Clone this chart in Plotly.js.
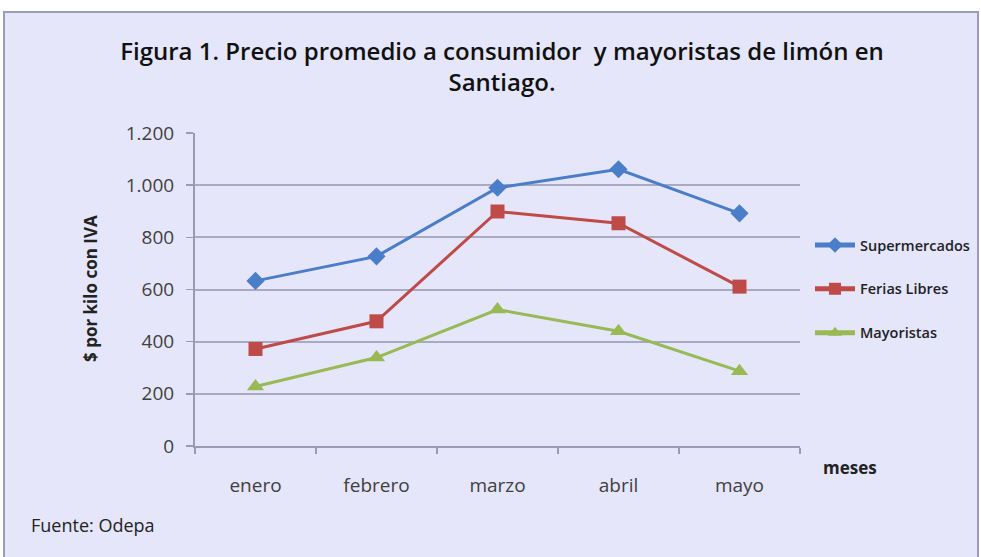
<!DOCTYPE html>
<html>
<head>
<meta charset="utf-8">
<script src="https://cdn.plot.ly/plotly-3.0.1.min.js"></script>
<style>html,body{margin:0;padding:0;background:#fff;}#chart{width:981px;height:557px;}</style>
</head>
<body>
<div id="chart"></div>
<script>
var months = ["enero", "febrero", "marzo", "abril", "mayo"];
var supermercados = [633, 727, 990, 1061, 892];
var feriasLibres = [372, 478, 899, 854, 611];
var mayoristas = [228, 339, 523, 440, 287];
var seriesNames = ["Supermercados", "Ferias Libres", "Mayoristas"];
var yTicks = [0, 200, 400, 600, 800, 1000, 1200];

var FONT = "'Open Sans', 'Noto Sans', sans-serif";
var W = 981, H = 557, L = 195, R = 800, T = 133, B = 446;
function px(x){ return (x - L) / (R - L); }
function py(y){ return (B - y) / (B - T); }

var traces = [
  {x: months, y: supermercados, name: seriesNames[0], legendgroup: "a", mode: "lines+markers",
   line: {color: "#4A7EC8", width: 3}, marker: {symbol: "diamond", size: 14, color: "#4A7EC8"}},
  {x: months, y: feriasLibres, name: seriesNames[1], legendgroup: "b", mode: "lines+markers",
   line: {color: "#BE4B48", width: 3}, marker: {symbol: "square", size: 14, color: "#BE4B48"}},
  {x: months, y: mayoristas, name: seriesNames[2], legendgroup: "c", mode: "lines+markers",
   line: {color: "#98B954", width: 3}, marker: {symbol: "triangle-up", size: 15, color: "#98B954"}}
];

var layout = {
  width: W, height: H,
  margin: {l: L, r: W - R, t: T, b: H - B, pad: 0, autoexpand: false},
  paper_bgcolor: "#ffffff",
  plot_bgcolor: "rgba(0,0,0,0)",
  separators: ",.",
  showlegend: true,
  title: {
    text: "Figura 1. Precio promedio a consumidor  y mayoristas de limón en<br>Santiago.",
    font: {family: FONT, size: 24, color: "#111111", weight: 600},
    x: px(502), xref: "paper", xanchor: "center",
    y: 1 - 60 / H, yref: "container", yanchor: "top"
  },
  xaxis: {
    type: "category",
    tickson: "boundaries",
    ticks: "outside", ticklen: 6, tickcolor: "#9A9AB4", tickwidth: 1.5,
    showline: true, linecolor: "#9A9AB4", linewidth: 2,
    showgrid: false, zeroline: false,
    tickfont: {family: FONT, size: 19, color: "#404040"},
    ticklabelstandoff: 21,
    range: [-0.5, 4.5], fixedrange: true
  },
  yaxis: {
    range: [0, 1200],
    tickvals: yTicks,
    tickformat: ",d",
    ticks: "outside", ticklen: 7, tickcolor: "#9A9AB4", tickwidth: 1.5,
    showline: true, linecolor: "#9A9AB4", linewidth: 2,
    showgrid: true, gridcolor: "#A9A9C2", gridwidth: 2,
    zeroline: false,
    tickfont: {family: FONT, size: 19, color: "#404040"},
    ticklabelstandoff: 8,
    fixedrange: true
  },
  legend: {
    x: px(810), y: py(229), xanchor: "left", yanchor: "top",
    bgcolor: "rgba(0,0,0,0)", borderwidth: 0,
    tracegroupgap: 22,
    itemsizing: "constant",
    font: {family: FONT, size: 14.5, color: "#222222", weight: 600},
    itemwidth: 40
  },
  shapes: [
    {type: "rect", layer: "below", xref: "paper", yref: "paper",
     x0: px(4), x1: px(978), y0: py(560), y1: py(12),
     fillcolor: "#E6E6FA", line: {color: "#9C9CB2", width: 2}}
  ],
  annotations: [
    {text: "$ por kilo con IVA", textangle: -90, xref: "paper", yref: "paper",
     x: px(90), y: py(289), xanchor: "center", yanchor: "middle", showarrow: false,
     font: {family: FONT, size: 17, color: "#222222", weight: 700}},
    {text: "meses", xref: "paper", yref: "paper",
     x: px(850), y: py(467), xanchor: "center", yanchor: "middle", showarrow: false,
     font: {family: FONT, size: 17, color: "#222222", weight: 700}},
    {text: "Fuente: Odepa", xref: "paper", yref: "paper",
     x: px(29), y: py(525), xanchor: "left", yanchor: "middle", showarrow: false,
     font: {family: FONT, size: 18, color: "#222222", weight: 500}}
  ]
};

Plotly.newPlot("chart", traces, layout, {displayModeBar: false, staticPlot: true});
</script>
</body>
</html>
